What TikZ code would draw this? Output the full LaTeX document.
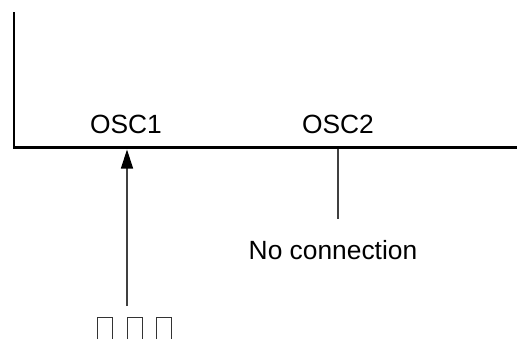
\documentclass[tikz,border=0pt]{standalone}
\usepackage{fontspec}
\setmainfont{Liberation Sans}
\usetikzlibrary{arrows.meta,positioning,calc}
\tikzset{
  rail/.style={line width=1.7pt,line cap=rect},
  lead/.style={draw=black!75,line width=0.75pt},
  pinlabel/.style={font=\fontsize{15}{17}\selectfont,inner sep=0pt},
  stub/.style={line width=0.55pt,draw=black!80},
}
\begin{document}
\begin{tikzpicture}
    \useasboundingbox (0,0) rectangle (10.34,-6.78);
    \coordinate (top) at (0.28,-0.26);
    \coordinate (corner) at (0.28,-2.95);
    \coordinate (right) at (10.34,-2.95);
    \coordinate (oscin) at (2.54,-2.99);
    \coordinate (oscout) at (6.76,-2.98);
    \coordinate (infoot) at (2.54,-6.12);
    \coordinate (outfoot) at (6.76,-4.38);
    \node[pinlabel] (osca) at (2.52,-2.48) {OSC1};
    \node[pinlabel] (oscb) at (6.76,-2.48) {OSC2};
    \node[pinlabel] (nc) at (6.66,-5.0) {No connection};
    \draw[rail] (top) -- (corner) -- (right);
    \draw[lead,-{Triangle[length=0.38cm,width=0.24cm,color=black]}] (infoot) -- (oscin);
    \draw[lead] (oscout) -- (outfoot);
    \foreach \x in {1.95,2.54,3.12} {
        \draw[stub] (\x,-6.78) -- (\x,-6.35) -- (\x+0.3,-6.35) -- (\x+0.3,-6.78);
    }
\end{tikzpicture}
\end{document}
